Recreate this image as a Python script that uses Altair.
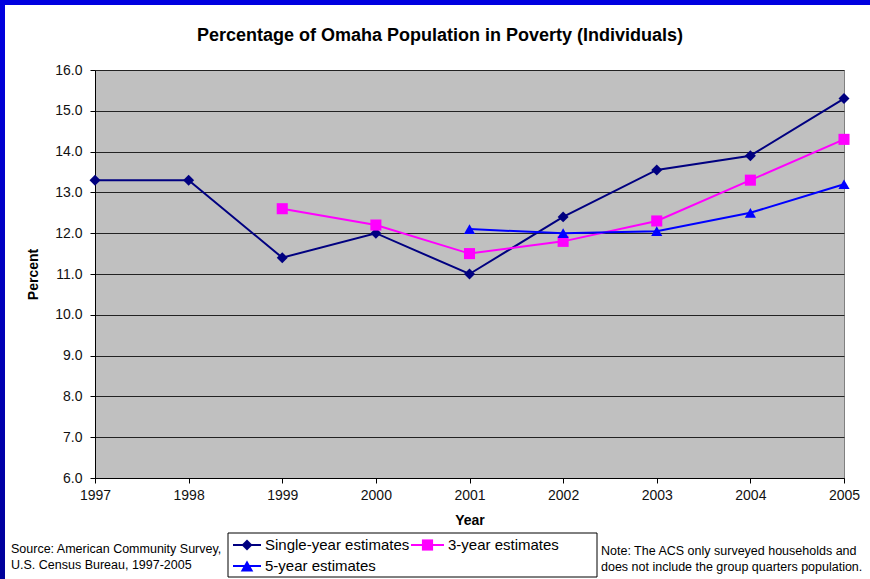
import altair as alt
import pandas as pd

# ---- data ----
years_single = [1997, 1998, 1999, 2000, 2001, 2002, 2003, 2004, 2005]
single_year = [13.3, 13.3, 11.4, 12.0, 11.0, 12.4, 13.55, 13.9, 15.3]
years_three = [1999, 2000, 2001, 2002, 2003, 2004, 2005]
three_year = [12.6, 12.2, 11.5, 11.8, 12.3, 13.3, 14.3]
years_five = [2001, 2002, 2003, 2004, 2005]
five_year = [12.1, 12.0, 12.05, 12.5, 13.2]

series_names = ["Single-year estimates", "3-year estimates", "5-year estimates"]
series_colors = ["#000080", "#FF00FF", "#0000FF"]
series_shapes = ["diamond", "square", "triangle-up"]
series_sizes = [120, 125, 160]
x_ticks = [1997, 1998, 1999, 2000, 2001, 2002, 2003, 2004, 2005]
y_ticks = [6, 7, 8, 9, 10, 11, 12, 13, 14, 15, 16]

title_text = "Percentage of Omaha Population in Poverty (Individuals)"
source_lines = ["Source: American Community Survey,", "U.S. Census Bureau, 1997-2005"]
note_lines = ["Note: The ACS only surveyed households and",
              "does not include the group quarters population."]

FONT = "Liberation Sans"

rows = []
for yrs, vals, name in [(years_single, single_year, series_names[0]),
                        (years_three, three_year, series_names[1]),
                        (years_five, five_year, series_names[2])]:
    for y, v in zip(yrs, vals):
        rows.append({"year": y, "value": v, "series": name})
df = pd.DataFrame(rows)

W, H = 749, 408
PL, PT = 95, 70

xenc = alt.X("year:Q",
             scale=alt.Scale(domain=[1997, 2005], nice=False, zero=False),
             axis=alt.Axis(values=x_ticks, format="d", title="Year", grid=False,
                           labelFont=FONT, labelFontSize=14, labelColor="#111",
                           titleFont=FONT, titleFontSize=14, titleFontWeight="bold",
                           titleColor="#000", tickSize=5, labelPadding=5,
                           titlePadding=11, domainColor="#000", tickColor="#000",
                           labelFlush=False))
yenc = alt.Y("value:Q",
             scale=alt.Scale(domain=[6, 16], nice=False, zero=False),
             axis=alt.Axis(values=y_ticks, format=".1f", title="Percent", grid=True,
                           gridColor="#222", gridWidth=1,
                           labelFont=FONT, labelFontSize=14, labelColor="#111",
                           titleFont=FONT, titleFontSize=14, titleFontWeight="bold",
                           titleColor="#000", tickSize=5, labelPadding=8,
                           titlePadding=14, domainColor="#000", tickColor="#000"))
color = alt.Color("series:N", scale=alt.Scale(domain=series_names, range=series_colors), legend=None)
shape = alt.Shape("series:N", scale=alt.Scale(domain=series_names, range=series_shapes), legend=None)
size = alt.Size("series:N", scale=alt.Scale(domain=series_names, range=series_sizes), legend=None)

lines = alt.Chart(df).mark_line(strokeWidth=2).encode(x=xenc, y=yenc, color=color, detail="series:N")
points = alt.Chart(df).mark_point(filled=True, opacity=1).encode(x="year:Q", y="value:Q",
                                                                 color=color, shape=shape, size=size)

one = pd.DataFrame({"k": [0]})

# blue frame
frame_top = alt.Chart(one).mark_rect(color="#0000E0").encode(
    x=alt.value(-PL), x2=alt.value(870 - PL), y=alt.value(-PT), y2=alt.value(5 - PT))
frame_left = alt.Chart(one).mark_rect(
    color=alt.LinearGradient(gradient="linear", x1=0, y1=0, x2=0, y2=1,
                             stops=[alt.GradientStop(color="#0000E0", offset=0),
                                    alt.GradientStop(color="#00009A", offset=1)])).encode(
    x=alt.value(-PL), x2=alt.value(5 - PL), y=alt.value(-PT), y2=alt.value(579 - PT))

title_mark = alt.Chart(one).mark_text(text=title_text, font=FONT, fontSize=18, fontWeight="bold",
                                      align="center", baseline="middle", color="#000").encode(
    x=alt.value(440 - PL), y=alt.value(36 - PT))

# legend box
legend_box = alt.Chart(one).mark_rect(fill="white", stroke="#000", strokeWidth=1).encode(
    x=alt.value(228 - PL), x2=alt.value(597 - PL), y=alt.value(533 - PT), y2=alt.value(577 - PT))

legend_layers = [legend_box]
legend_pos = [(233, 545), (411, 545), (233, 566)]
for i, (name, (px, py)) in enumerate(zip(series_names, legend_pos)):
    seg_len = 28 if i != 1 else 33
    legend_layers.append(alt.Chart(one).mark_rule(color=series_colors[i], strokeWidth=2).encode(
        x=alt.value(px - PL), x2=alt.value(px - PL + seg_len), y=alt.value(py - PT)))
    legend_layers.append(alt.Chart(one).mark_point(filled=True, opacity=1, color=series_colors[i],
                                                   shape=series_shapes[i], size=series_sizes[i]).encode(
        x=alt.value(px - PL + seg_len / 2), y=alt.value(py - PT)))
    legend_layers.append(alt.Chart(one).mark_text(text=name, font=FONT, fontSize=15, align="left",
                                                  baseline="middle", color="#000").encode(
        x=alt.value(px - PL + seg_len + 4), y=alt.value(py - PT)))

texts = []
for i, t in enumerate(source_lines):
    texts.append(alt.Chart(one).mark_text(text=t, font=FONT, fontSize=12.5, align="left",
                                          baseline="middle", color="#000").encode(
        x=alt.value(11 - PL), y=alt.value(549 + 16 * i - PT)))
for i, t in enumerate(note_lines):
    texts.append(alt.Chart(one).mark_text(text=t, font=FONT, fontSize=12.5, align="left",
                                          baseline="middle", color="#000").encode(
        x=alt.value(601 - PL), y=alt.value(551 + 16 * i - PT)))

chart = alt.layer(lines, points, frame_top, frame_left, title_mark, *legend_layers, *texts).properties(
    width=W, height=H,
    autosize=alt.AutoSizeParams(type="none"),
    padding={"left": PL, "top": PT, "right": 870 - PL - W, "bottom": 579 - PT - H},
    background="white",
).configure_view(fill="#C0C0C0", stroke="#808080", strokeWidth=1)

chart.save("out.html", embed_options={"renderer": "svg", "actions": False})
